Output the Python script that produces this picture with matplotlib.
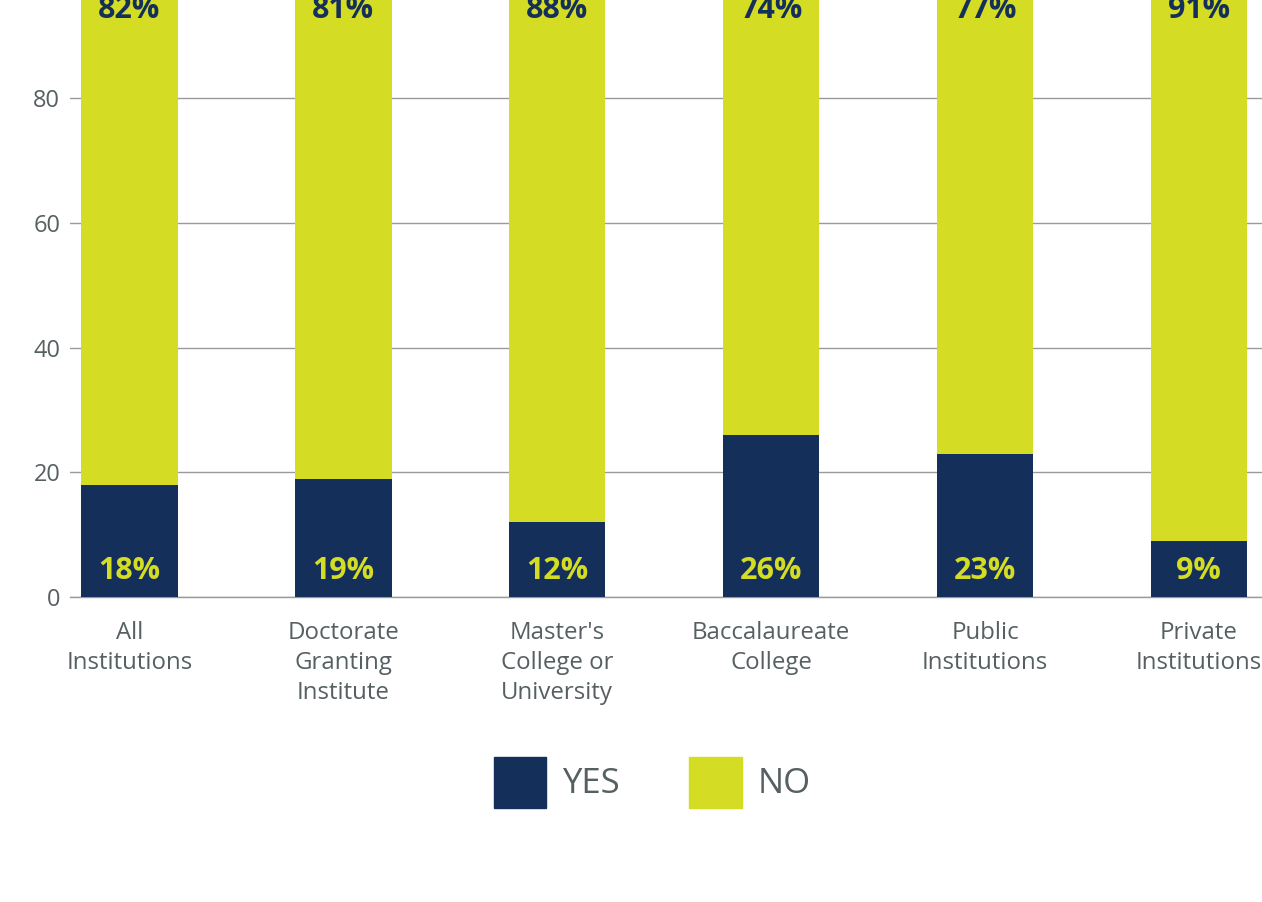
import matplotlib
matplotlib.use('Agg')
import matplotlib.pyplot as plt
from matplotlib.patches import Patch

plt.rcParams['font.family'] = ['Open Sans', 'DejaVu Sans']

categories = ['All\nInstitutions', 'Doctorate\nGranting\nInstitute',
              "Master's\nCollege or\nUniversity", 'Baccalaureate\nCollege',
              'Public\nInstitutions', 'Private\nInstitutions']
yes_vals = [18, 19, 12, 26, 23, 9]
no_vals = [82, 81, 88, 74, 77, 91]

navy = '#14305a'
lime = '#d4dc24'
grey_text = '#566062'

fig = plt.figure(figsize=(12.62, 9.02), dpi=100)
# axes run past the top and right edges of the canvas
ax = fig.add_axes([0.0555, 0.3381, 0.9445, 0.6916])

x = list(range(len(categories)))
ax.bar(x, yes_vals, width=0.45, color=navy, zorder=3)
ax.bar(x, no_vals, width=0.45, bottom=yes_vals, color=lime, zorder=3)

for i in x:
    ax.text(i, 2.84, f'{yes_vals[i]}%', ha='center', va='baseline',
            fontsize=22, fontweight='bold', color=lime, zorder=4)
    ax.text(i, 92.8, f'{no_vals[i]}%', ha='center', va='baseline',
            fontsize=22, fontweight='bold', color=navy, zorder=4)

ax.set_xlim(-0.278, 5.295)
ax.set_ylim(0, 100)
ax.set_yticks([0, 20, 40, 60, 80, 100])
ax.set_xticks(x)
ax.set_xticklabels(categories, fontsize=17.3, color=grey_text, linespacing=1.33)
ax.tick_params(axis='y', labelsize=17, labelcolor=grey_text, length=0, pad=7)
ax.tick_params(axis='x', length=0, pad=17)
ax.grid(axis='y', color='#9a9a9a', linewidth=1, zorder=0)
for side in ['top', 'right', 'left']:
    ax.spines[side].set_visible(False)
ax.spines['bottom'].set_color('#9a9a9a')
ax.spines['bottom'].set_linewidth(1)

handles = [Patch(color=navy, label='YES'), Patch(color=lime, label='NO')]
leg = fig.legend(handles=handles, loc='center', bbox_to_anchor=(0.517, 0.133),
                 ncol=2, frameon=False, fontsize=25, handlelength=1.5,
                 handleheight=1.88, handletextpad=0.46, columnspacing=2.0,
                 borderpad=0)
for t in leg.get_texts():
    t.set_color(grey_text)

fig.savefig('out.png', dpi=100)
